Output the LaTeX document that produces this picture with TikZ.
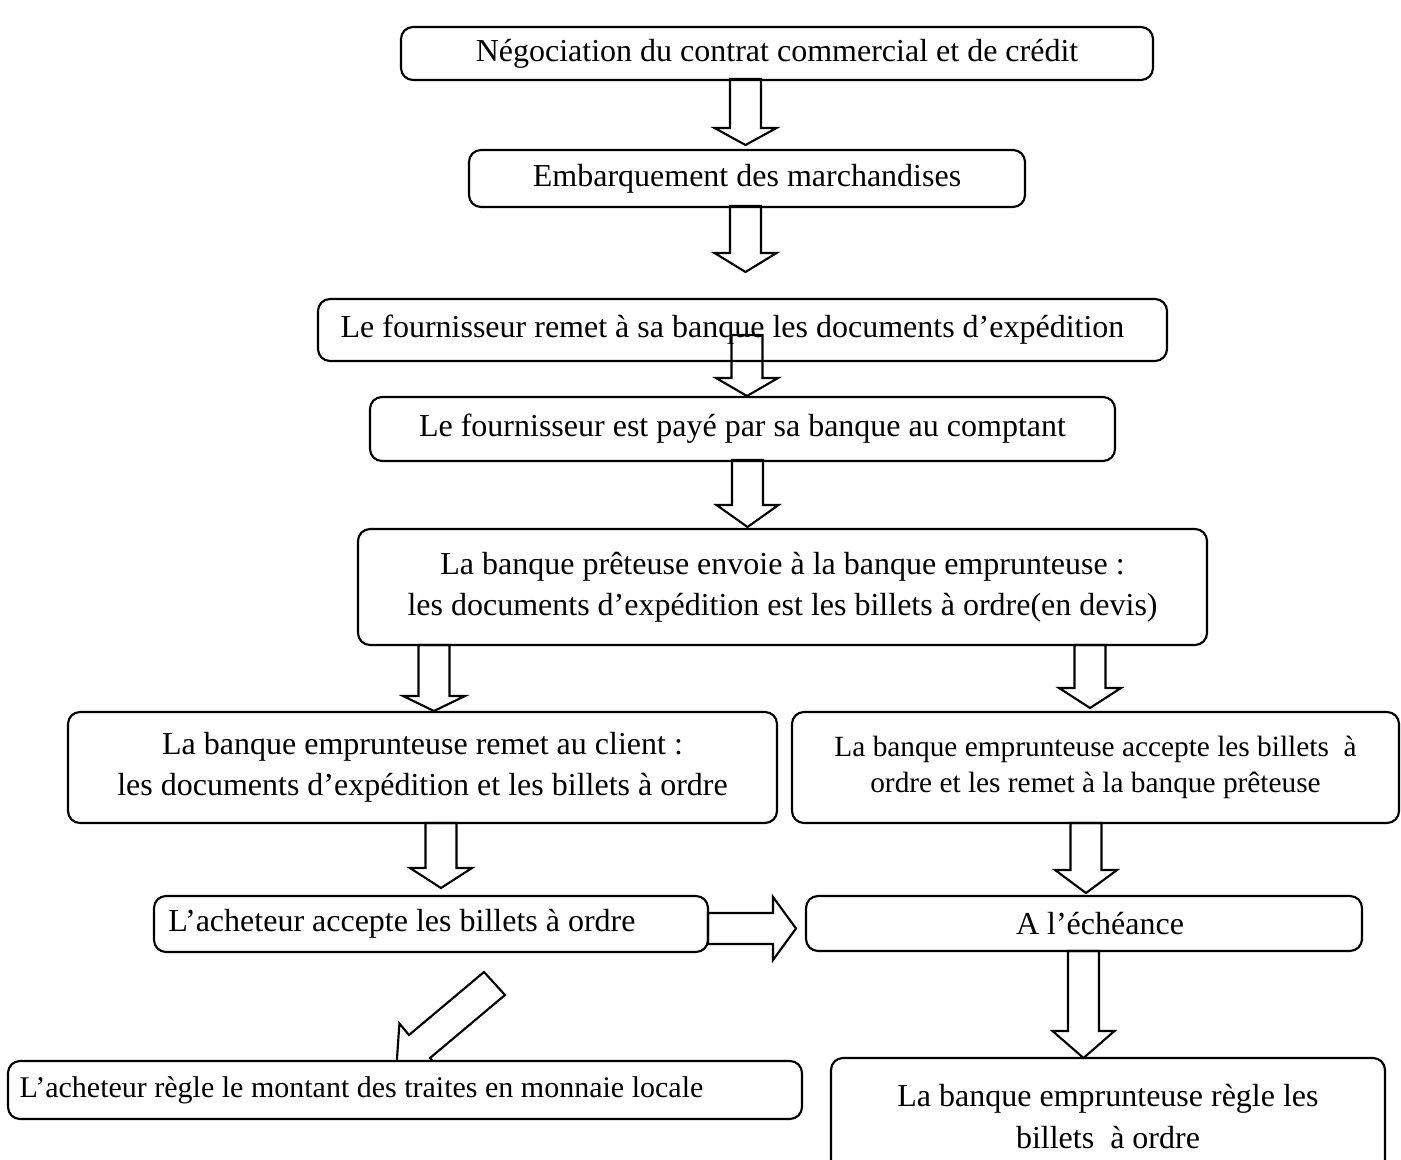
\documentclass[tikz,border=0pt]{standalone}
\usepackage{fontspec}
\setmainfont{Liberation Serif}
\newlength\pxu
\setlength\pxu{0.375pt}
\newcommand\blockdown[4]{%
  \draw[barrow] (#1-15.5,#2) -- (#1-15.5,#3) -- (#1-31,#3) -- (#1,#4) -- (#1+31,#3) -- (#1+15.5,#3) -- (#1+15.5,#2) -- cycle;}
\begin{document}
\begin{tikzpicture}[x=0.375pt, y=-0.375pt,
  box/.style={draw, line width=0.8pt, rounded corners=4.5pt, fill=white, inner sep=0pt, align=center,
              font=\fontsize{12}{15.4}\selectfont},
  smalltext/.style={font=\fontsize{11}{13.5}\selectfont},
  barrow/.style={draw, line width=0.8pt, line join=miter}]
\useasboundingbox (0,0) rectangle (1401,1160);
\clip (0,0) rectangle (1401,1160);

% diagonal block arrow (partly hidden by the box below it)
\draw[barrow] (484,972) -- (505,995) -- (430,1058) -- (439.6,1069.5) -- (396.5,1065.8) -- (399.4,1023.5) -- (409,1035) -- cycle;

\node[box, minimum width=752*\pxu, minimum height=53*\pxu] (b1) at (777,53.5)
  {Négociation du contrat commercial et de crédit};
\node[box, minimum width=556*\pxu, minimum height=57*\pxu] (b2) at (747,178.5)
  {Embarquement des marchandises};
\node[box, minimum width=849*\pxu, minimum height=62*\pxu] (b3) at (742.5,330)
  {Le fournisseur remet à sa banque les documents d’expédition\hspace*{20\pxu}};
\node[box, minimum width=745*\pxu, minimum height=64*\pxu] (b4) at (742.5,429)
  {Le fournisseur est payé par sa banque au comptant};
\node[box, minimum width=849*\pxu, minimum height=116*\pxu] (b5) at (782.5,587)
  {La banque prêteuse envoie à la banque emprunteuse :\\
   les documents d’expédition est les billets à ordre(en devis)};
\node[box, minimum width=709*\pxu, minimum height=111*\pxu] (b6) at (422.5,767.5)
  {La banque emprunteuse remet au client :\\
   les documents d’expédition et les billets à ordre};
\node[box, smalltext, minimum width=607*\pxu, minimum height=111*\pxu] (b7) at (1095.5,767.5)
  {La banque emprunteuse accepte les billets\ \ à\\
   ordre et les remet à la banque prêteuse};
\node[box, minimum width=554*\pxu, minimum height=56*\pxu] (b8) at (431,924)
  {L’acheteur accepte les billets à ordre\hspace*{58\pxu}};
\node[box, minimum width=556*\pxu, minimum height=55*\pxu] (b9) at (1084,923.5)
  {\hspace*{32\pxu}A l’échéance};
\node[box, font=\fontsize{11.25}{13.5}\selectfont, minimum width=794*\pxu, minimum height=58*\pxu] (b10) at (405,1090)
  {L’acheteur règle le montant des traites en monnaie locale\hspace*{87\pxu}};
\node[box, minimum width=554*\pxu, minimum height=117*\pxu] (b11) at (1108,1116.5)
  {La banque emprunteuse règle les\\
   billets\ \ à ordre};

% block arrows
\blockdown{745.5}{79}{128}{145}
\blockdown{745.5}{206}{253}{272}
\blockdown{747}{335}{378}{396}
\blockdown{747.5}{460}{505}{527}
\blockdown{434}{645}{696}{711}
\blockdown{1090}{645}{688}{708}
\blockdown{441}{823}{868}{888}
\blockdown{1086}{823}{870}{893}
\blockdown{1083.5}{951}{1031}{1058}
\draw[barrow] (708,913) -- (773,913) -- (773,897) -- (796,928.5) -- (773,960) -- (773,944) -- (708,944) -- cycle;
\end{tikzpicture}
\end{document}
